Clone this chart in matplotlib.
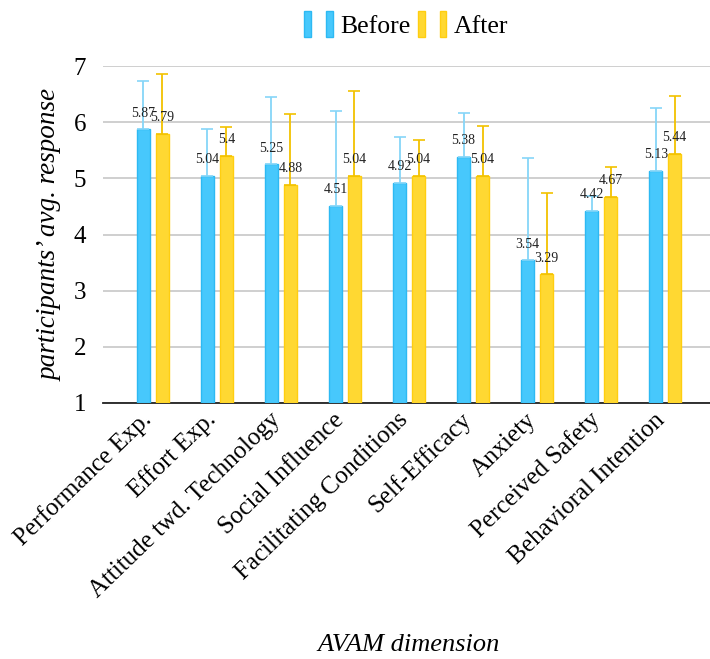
import numpy as np
import matplotlib.pyplot as plt
from matplotlib.patches import Rectangle
from matplotlib.legend_handler import HandlerTuple

plt.rcParams['font.family'] = ['Liberation Serif', 'DejaVu Serif']

# AVAM dimensions and mean responses before / after
dims = ['Performance Exp.', 'Effort Exp.', 'Attitude twd. Technology',
        'Social Influence', 'Facilitating Conditions', 'Self-Efficacy',
        'Anxiety', 'Perceived Safety', 'Behavioral Intention']
before = [5.87, 5.04, 5.25, 4.51, 4.92, 5.38, 3.54, 4.42, 5.13]
after = [5.79, 5.4, 4.88, 5.04, 5.04, 5.04, 3.29, 4.67, 5.44]
# standard deviations (upper whisker only)
before_sd = [0.86, 0.84, 1.19, 1.69, 0.82, 0.78, 1.83, 0.26, 1.13]
after_sd = [1.06, 0.51, 1.27, 1.52, 0.64, 0.89, 1.45, 0.54, 1.03]

blue, blue_edge, blue_err = '#47C8FC', '#2DB9F3', '#86D6F8'
yellow, yellow_edge, yellow_err = '#FFD832', '#FFCE10', '#F2C200'

fig = plt.figure(figsize=(7.1, 6.59), dpi=100)
ax = fig.add_axes([0.145, 0.3885, 0.855, 0.5113])

x = np.arange(len(dims))
w = 0.21
off = 0.148
base = 1

ax.bar(x - off, np.array(before) - base, w, bottom=base,
       color=blue, edgecolor=blue_edge, linewidth=1, zorder=3)
ax.bar(x + off, np.array(after) - base, w, bottom=base,
       color=yellow, edgecolor=yellow_edge, linewidth=1, zorder=3)

for xs, vals, sd, ec in [(x - off, before, before_sd, blue_err),
                         (x + off, after, after_sd, yellow_err)]:
    _, caps, lines = ax.errorbar(xs, vals, yerr=[np.zeros(len(sd)), sd],
                                 fmt='none', ecolor=ec, elinewidth=1.3,
                                 capsize=4, capthick=1.2, zorder=4)
    for c in caps:
        c.set_color('#222222')
    for xi, v in zip(xs, vals):
        ax.annotate(f'{v:g}', (xi, v), xytext=(0, 7), textcoords='offset points',
                    ha='center', va='bottom', fontsize=10, color='#222222',
                    zorder=5)

ax.set_xlim(-0.78, 8.70)
ax.set_ylim(1, 7)
ax.set_yticks(range(1, 8))
ax.grid(axis='y', color='#CCCCCC', linewidth=1.3, zorder=0)
for s in ['top', 'right', 'left']:
    ax.spines[s].set_visible(False)
ax.spines['bottom'].set_color('#222222')
ax.spines['bottom'].set_linewidth(1.3)
ax.tick_params(axis='y', length=0, pad=12, labelsize=18)
ax.tick_params(axis='x', length=0, pad=13, labelsize=18)
ax.set_xticks(x)
ax.set_xticklabels(dims, rotation=44, ha='right', va='baseline',
                   rotation_mode='anchor')

ax.set_ylabel('participants\u2019 avg. response', fontsize=19.5,
              style='italic', labelpad=8)
fig.text(0.576, 0.021, 'AVAM dimension', fontsize=19, style='italic',
         ha='center', va='center')

hb = (Rectangle((0, 0), 1, 1, fc=blue, ec=blue_edge),
      Rectangle((0, 0), 1, 1, fc=blue, ec=blue_edge))
ha = (Rectangle((0, 0), 1, 1, fc=yellow, ec=yellow_edge),
      Rectangle((0, 0), 1, 1, fc=yellow, ec=yellow_edge))
ax.legend([hb, ha], ['Before', 'After'],
          handler_map={tuple: HandlerTuple(ndivide=None, pad=0.6)},
          loc='lower center', bbox_to_anchor=(0.5, 1.015), ncol=2,
          frameon=False, fontsize=18.5, handlelength=1.1, handleheight=1.2,
          handletextpad=0.3, columnspacing=0.3)

fig.savefig('out.png', dpi=100)
